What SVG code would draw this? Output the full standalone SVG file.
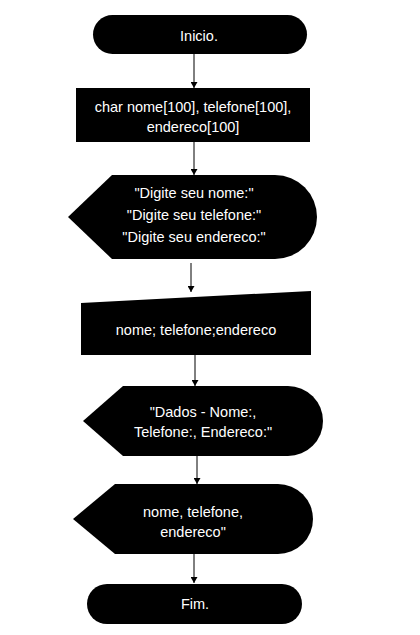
<svg xmlns="http://www.w3.org/2000/svg" width="420" height="635" viewBox="0 0 420 635">
<defs>
<style>
.shape{fill:#000;stroke:none}
.lbl{fill:#fff;font-family:"Liberation Sans",Arial,sans-serif;font-size:14.5px;text-anchor:middle;dominant-baseline:central}
.conn{stroke:#000;stroke-width:1;fill:none;marker-end:url(#arr)}
</style>
<marker id="arr" markerWidth="6" markerHeight="7" refX="6" refY="3.5" orient="auto" markerUnits="userSpaceOnUse">
<path d="M0,0 L6,3.5 L0,7 Z" fill="#000"/>
</marker>
</defs>
<rect width="420" height="635" fill="#fff"/>
<g id="connectors">
<line class="conn" x1="194" y1="54" x2="194" y2="88"/>
<line class="conn" x1="194" y1="142" x2="194" y2="175"/>
<line class="conn" x1="191" y1="263" x2="191" y2="292"/>
<line class="conn" x1="195" y1="355" x2="195" y2="386"/>
<line class="conn" x1="197" y1="456" x2="197" y2="484"/>
<line class="conn" x1="194" y1="554" x2="194" y2="583"/>
</g>
<g id="inicio">
<rect class="shape" x="93" y="15" width="214" height="39" rx="19.5"/>
<text class="lbl" x="199" y="36">Inicio.</text>
</g>
<g id="declaracao">
<rect class="shape" x="76" y="88" width="234" height="54"/>
<text class="lbl" x="193" y="107">char nome[100], telefone[100],</text>
<text class="lbl" x="193" y="127">endereco[100]</text>
</g>
<g id="exibe-prompts">
<path class="shape" d="M68,217 L112,175 L275,175 A42,42 0 0 1 275,259 L112,259 Z"/>
<text class="lbl" x="194" y="193">"Digite seu nome:"</text>
<text class="lbl" x="194" y="215">"Digite seu telefone:"</text>
<text class="lbl" x="194" y="237">"Digite seu endereco:"</text>
</g>
<g id="entrada">
<path class="shape" d="M81,303 L311,291 L311,355 L81,355 Z"/>
<text class="lbl" x="196" y="330">nome; telefone;endereco</text>
</g>
<g id="exibe-dados">
<path class="shape" d="M83,421 L123,386 L288,386 A35,35 0 0 1 288,456 L123,456 Z"/>
<text class="lbl" x="203" y="412">"Dados - Nome:,</text>
<text class="lbl" x="203" y="432">Telefone:, Endereco:"</text>
</g>
<g id="exibe-valores">
<path class="shape" d="M73,519 L115,484 L278,484 A35,35 0 0 1 278,554 L115,554 Z"/>
<text class="lbl" x="193" y="512">nome, telefone,</text>
<text class="lbl" x="193" y="532">endereco"</text>
</g>
<g id="fim">
<rect class="shape" x="87" y="584" width="215" height="40" rx="20"/>
<text class="lbl" x="195" y="604">Fim.</text>
</g>
</svg>
